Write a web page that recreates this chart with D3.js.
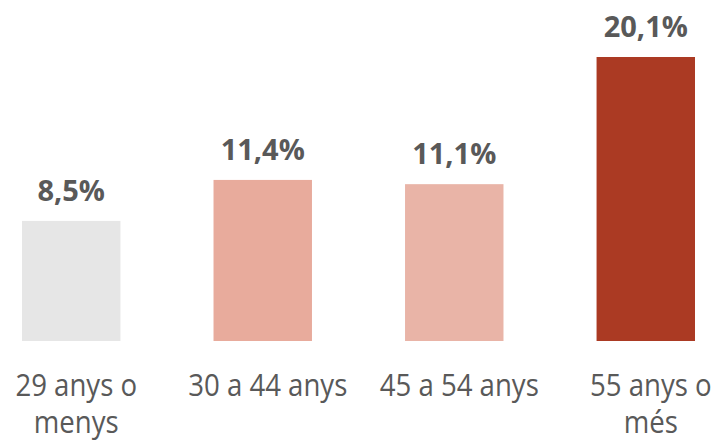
<!DOCTYPE html>
<html>
<head>
<meta charset="utf-8">
<script src="https://cdn.jsdelivr.net/npm/d3@7"></script>
<style>
  body { margin: 0; background: #fff; }
  text { font-family: "Open Sans", sans-serif; fill: #595959; }
</style>
</head>
<body>
<svg id="chart" width="716" height="441"></svg>
<script>
const categories = [["29 anys o", "menys"], ["30 a 44 anys"], ["45 a 54 anys"], ["55 anys o", "més"]];
const values = [8.5, 11.4, 11.1, 20.1];
const valueLabels = ["8,5%", "11,4%", "11,1%", "20,1%"];
const barColors = ["#e6e6e6", "#e8ab9c", "#e9b4a7", "#ab3a23"];

const svg = d3.select("#chart");
const baseline = 341;

const x = d3.scaleBand()
  .domain(d3.range(values.length))
  .range([22, 695])
  .paddingInner(0.486)
  .paddingOuter(0);

const y = d3.scaleLinear()
  .domain([0, d3.max(values)])
  .range([baseline, 57]);

// bars
svg.selectAll("rect.bar")
  .data(values)
  .join("rect")
  .attr("class", "bar")
  .attr("x", (d, i) => x(i))
  .attr("y", d => y(d))
  .attr("width", x.bandwidth())
  .attr("height", d => baseline - y(d))
  .attr("fill", (d, i) => barColors[i]);

// value labels above bars
svg.selectAll("text.value")
  .data(values)
  .join("text")
  .attr("class", "value")
  .attr("x", (d, i) => x(i) + x.bandwidth() / 2)
  .attr("y", d => y(d) - 20)
  .attr("text-anchor", "middle")
  .style("font-size", "29px")
  .style("font-weight", "bold")
  .text((d, i) => valueLabels[i]);

// category labels, wrapped on two lines where needed
const cats = svg.selectAll("g.cat")
  .data(categories)
  .join("g")
  .attr("class", "cat")
  .attr("transform", (d, i) => `translate(${x(i) + x.bandwidth() / 2 + 5},396) scale(0.89,1)`);

cats.selectAll("text")
  .data(d => d)
  .join("text")
  .attr("y", (d, j) => j * 37)
  .attr("text-anchor", "middle")
  .style("font-size", "31px")
  .text(d => d);
</script>
</body>
</html>
